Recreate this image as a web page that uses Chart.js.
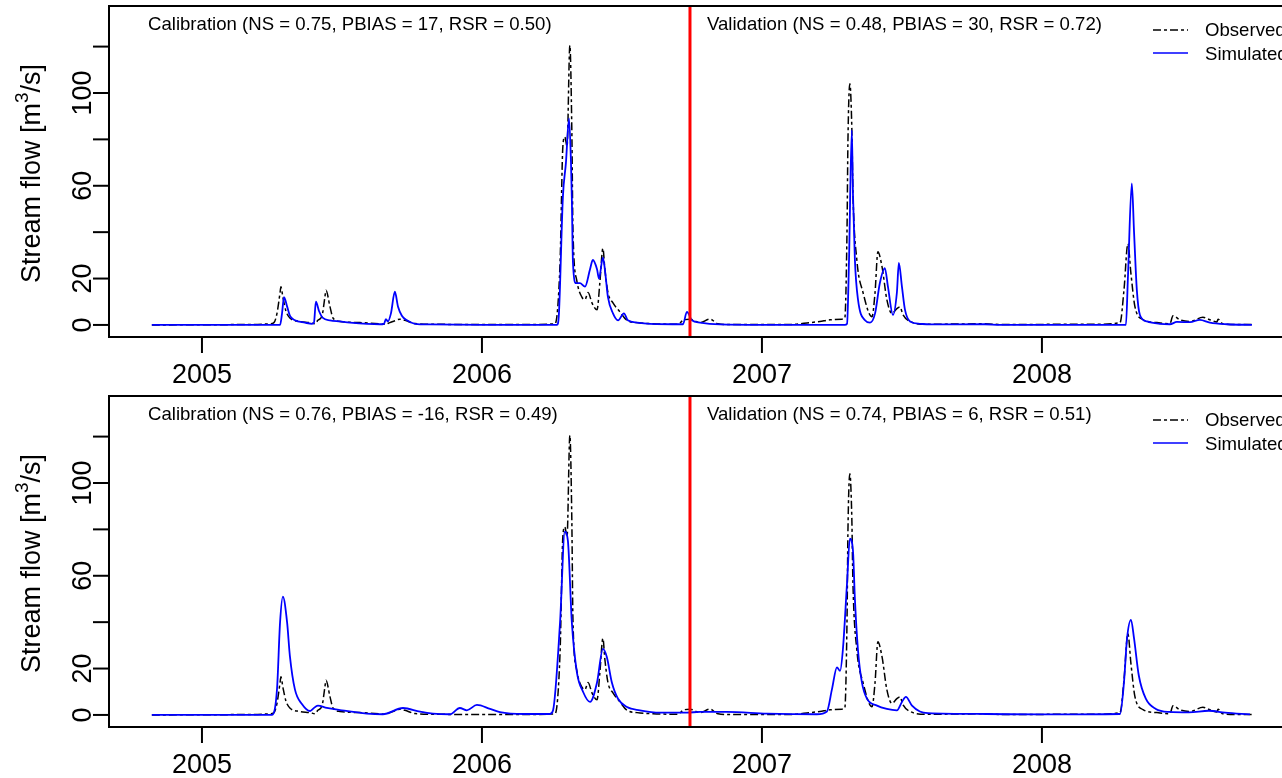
<!DOCTYPE html>
<html>
<head>
<meta charset="utf-8">
<script src="https://cdn.jsdelivr.net/npm/chart.js@4.4.0/dist/chart.umd.min.js"></script>
<style>
body { margin: 0; background: #fff; }
#wrap { width: 1282px; height: 778px; overflow: hidden; position: relative; background: #fff; }
canvas { position: absolute; left: 0; }
</style>
</head>
<body>
<div id="wrap">
<canvas id="top" width="1310" height="390" style="top:0"></canvas>
<canvas id="bottom" width="1310" height="390" style="top:390px"></canvas>
</div>
<script>
// observed stream flow (same record in both panels), decimal years
var obsYears = [2004.821, 2005.171, 2005.243, 2005.257, 2005.268, 2005.279, 2005.282, 2005.289, 2005.300, 2005.314,
  2005.350, 2005.386, 2005.404, 2005.414, 2005.429, 2005.439, 2005.443, 2005.457, 2005.468, 2005.493,
  2005.564, 2005.636, 2005.654, 2005.671, 2005.689, 2005.707, 2005.725, 2005.761, 2005.832, 2005.921,
  2006.064, 2006.171, 2006.261, 2006.279, 2006.289, 2006.296, 2006.304, 2006.314, 2006.321, 2006.325,
  2006.339, 2006.357, 2006.368, 2006.379, 2006.393, 2006.411, 2006.421, 2006.432, 2006.439, 2006.450,
  2006.468, 2006.493, 2006.518, 2006.554, 2006.611, 2006.700, 2006.718, 2006.743, 2006.779, 2006.814,
  2006.843, 2006.886, 2007.100, 2007.171, 2007.207, 2007.243, 2007.286, 2007.296, 2007.304, 2007.307,
  2007.314, 2007.321, 2007.325, 2007.339, 2007.361, 2007.393, 2007.404, 2007.414, 2007.429, 2007.446,
  2007.464, 2007.482, 2007.493, 2007.504, 2007.529, 2007.589, 2007.796, 2007.850, 2008.196, 2008.279,
  2008.293, 2008.307, 2008.318, 2008.332, 2008.361, 2008.411, 2008.457, 2008.468, 2008.493, 2008.529,
  2008.575, 2008.600, 2008.625, 2008.629, 2008.646, 2008.707, 2008.750];
var obsFlow = [0, 0.2, 0.5, 1, 5, 14, 16.5, 12, 6, 3,
  1.5, 1, 0.5, 2, 4, 12, 15, 8, 3, 1.5,
  1, 0.5, 0.3, 1, 1.8, 2.5, 2, 0.6, 0.3, 0.2,
  0.2, 0.2, 0.5, 27, 77, 81, 77, 120.5, 84, 41,
  19, 12, 11, 14, 9.5, 6.5, 18, 33, 24, 14,
  9.5, 5.6, 2, 1, 0.5, 0.3, 2, 2.5, 1, 2.5,
  0.5, 0.2, 0.2, 1, 1.5, 2.2, 2.5, 3, 42, 78,
  104, 85, 57, 28, 14, 3.5, 14, 31.5, 25, 11,
  5, 7, 7.8, 4.3, 1.5, 0.3, 0.5, 0.2, 0.3, 1,
  15, 35, 22, 8, 2.3, 1, 0.5, 4, 2.2, 1.5,
  3.3, 2.2, 1.3, 2.5, 0.5, 0.2, 0.2];

// simulated, top panel
var sim1Years = [2004.821, 2005.279, 2005.286, 2005.293, 2005.304, 2005.314, 2005.332, 2005.368, 2005.393, 2005.400,
  2005.407, 2005.418, 2005.432, 2005.457, 2005.493, 2005.529, 2005.636, 2005.650, 2005.657, 2005.664,
  2005.675, 2005.689, 2005.700, 2005.714, 2005.732, 2005.761, 2005.814, 2006.000, 2006.268, 2006.275,
  2006.289, 2006.300, 2006.311, 2006.318, 2006.321, 2006.325, 2006.336, 2006.350, 2006.368, 2006.386,
  2006.396, 2006.411, 2006.418, 2006.432, 2006.439, 2006.450, 2006.468, 2006.486, 2006.507, 2006.521,
  2006.554, 2006.600, 2006.718, 2006.732, 2006.750, 2006.779, 2006.850, 2007.000, 2007.296, 2007.304,
  2007.311, 2007.321, 2007.325, 2007.332, 2007.343, 2007.368, 2007.386, 2007.404, 2007.421, 2007.439,
  2007.450, 2007.468, 2007.482, 2007.489, 2007.500, 2007.511, 2007.529, 2007.564, 2007.600, 2007.796,
  2007.850, 2008.300, 2008.307, 2008.321, 2008.329, 2008.339, 2008.350, 2008.375, 2008.421, 2008.457,
  2008.482, 2008.529, 2008.564, 2008.600, 2008.661, 2008.750];
var sim1Flow = [0, 0, 5, 12, 8, 4, 2, 1, 0.5, 1,
  10, 6, 3, 2, 1.5, 1, 0.3, 0.5, 2.5, 1.5,
  5, 14.3, 8, 4, 2, 0.5, 0.2, 0, 0, 5,
  55, 70, 89, 70, 55, 27, 18, 18, 16.5, 24,
  28, 24, 20, 29, 24, 12, 5, 2, 5, 2,
  1, 0.5, 0.3, 5.6, 2, 1, 0.2, 0, 0, 0.5,
  28, 84, 57, 28, 11, 2, 1, 5, 18, 24.5,
  16.5, 4.3, 14, 26.7, 16.5, 6.5, 1.5, 0.5, 0.2, 0.3,
  0, 0, 20, 61, 40, 15, 4.3, 1.5, 0.5, 0.3,
  1.3, 1.2, 2.2, 1, 0.3, 0];

// simulated, bottom panel
var sim2Years = [2004.821, 2005.250, 2005.268, 2005.279, 2005.289, 2005.304, 2005.314, 2005.332, 2005.357, 2005.386,
  2005.396, 2005.414, 2005.446, 2005.493, 2005.589, 2005.646, 2005.718, 2005.779, 2005.825, 2005.886,
  2005.921, 2005.946, 2005.982, 2006.029, 2006.064, 2006.150, 2006.243, 2006.254, 2006.279, 2006.296,
  2006.307, 2006.321, 2006.339, 2006.361, 2006.386, 2006.411, 2006.432, 2006.446, 2006.464, 2006.486,
  2006.518, 2006.564, 2006.636, 2006.732, 2006.779, 2006.875, 2007.018, 2007.196, 2007.232, 2007.250,
  2007.268, 2007.279, 2007.289, 2007.304, 2007.314, 2007.325, 2007.332, 2007.343, 2007.357, 2007.375,
  2007.411, 2007.446, 2007.482, 2007.500, 2007.514, 2007.536, 2007.564, 2007.593, 2007.800, 2008.000,
  2008.279, 2008.293, 2008.304, 2008.318, 2008.329, 2008.346, 2008.371, 2008.407, 2008.454, 2008.525,
  2008.596, 2008.654, 2008.743];
var sim2Flow = [0, 0, 11, 40, 51, 40, 25.5, 11, 4.7, 1.7,
  2.6, 4, 3, 2.1, 0.6, 0.3, 3, 1.4, 0.6, 0.3,
  3, 2, 4.3, 2.6, 1.2, 0.4, 0.4, 2, 40, 79,
  75, 40, 18.5, 10, 5.6, 14, 28.5, 25, 14, 7,
  3.4, 2, 1, 1, 1.3, 1.3, 0.6, 0.3, 1.5, 11,
  20.5, 19, 28, 57, 76, 71, 50, 28, 14, 7,
  4, 2.6, 2, 5.6, 7.8, 4, 1.5, 0.8, 0.4, 0.2,
  0.4, 14, 33, 41, 33, 17, 7, 2.6, 1.3, 1.1,
  1.8, 1, 0.2];

var yTicks = [0, 20, 40, 60, 80, 100, 120];
var yLabels = [0, 20, 60, 100];
var xTicks = [2005, 2006, 2007, 2008];
var splitYear = 2006.743;

var topNotes = ['Calibration (NS = 0.75, PBIAS = 17, RSR = 0.50)', 'Validation (NS = 0.48, PBIAS = 30, RSR = 0.72)'];
var bottomNotes = ['Calibration (NS = 0.76, PBIAS = -16, RSR = 0.49)', 'Validation (NS = 0.74, PBIAS = 6, RSR = 0.51)'];
var legendLabels = ['Observed', 'Simulated'];

var axisFont = '27px "Liberation Sans", Arial, sans-serif';
var supFont = '19px "Liberation Sans", Arial, sans-serif';
var noteFont = '18.6px "Liberation Sans", Arial, sans-serif';
var obsDash = [8, 3, 3, 3];

function pairs(xs, ys) {
    return xs.map(function (x, i) { return { x: x, y: ys[i] }; });
}

function seg(c, x1, y1, x2, y2) {
    c.beginPath();
    c.moveTo(x1, y1);
    c.lineTo(x2, y2);
    c.stroke();
}

function framePlugin(notes) {
    return {
        id: 'frame',
        afterDraw: function (chart) {
            var c = chart.ctx, a = chart.chartArea;
            var xs = chart.scales.x, ys = chart.scales.y;
            c.save();

            // period split
            var sx = xs.getPixelForValue(splitYear);
            c.strokeStyle = '#ff0000';
            c.lineWidth = 3;
            seg(c, sx, a.top, sx, a.bottom);

            // box
            c.strokeStyle = '#000';
            c.lineWidth = 2;
            c.strokeRect(a.left, a.top, a.right - a.left, a.bottom - a.top);

            // y axis
            c.fillStyle = '#000';
            yTicks.forEach(function (v) {
                var y = ys.getPixelForValue(v);
                seg(c, a.left - 16, y, a.left, y);
            });
            c.font = axisFont;
            c.textAlign = 'center';
            c.textBaseline = 'alphabetic';
            yLabels.forEach(function (v) {
                var y = ys.getPixelForValue(v);
                c.save();
                c.translate(a.left - 18, y);
                c.rotate(-Math.PI / 2);
                c.fillText(String(v), 0, 0);
                c.restore();
            });

            // x axis
            xTicks.forEach(function (v) {
                var x = xs.getPixelForValue(v);
                seg(c, x, a.bottom, x, a.bottom + 16);
                c.fillText(String(v), x, a.bottom + 46);
            });

            // y title with superscript
            var p1 = 'Stream flow [m', p2 = '3', p3 = '/s]';
            c.font = axisFont;
            var w1 = c.measureText(p1).width, w3 = c.measureText(p3).width;
            c.font = supFont;
            var w2 = c.measureText(p2).width;
            var total = w1 + w2 + w3;
            c.save();
            c.translate(40, (a.top + a.bottom) / 2 + 2);
            c.rotate(-Math.PI / 2);
            c.textAlign = 'left';
            c.font = axisFont;
            c.fillText(p1, -total / 2, 0);
            c.font = supFont;
            c.fillText(p2, -total / 2 + w1, -12);
            c.font = axisFont;
            c.fillText(p3, -total / 2 + w1 + w2, 0);
            c.restore();

            // period notes
            c.font = noteFont;
            c.textAlign = 'left';
            c.textBaseline = 'middle';
            c.fillText(notes[0], 148, a.top + 19);
            c.fillText(notes[1], 707, a.top + 19);

            // legend
            c.lineWidth = 1.5;
            c.setLineDash(obsDash);
            c.strokeStyle = '#000';
            seg(c, 1153, a.top + 24, 1188, a.top + 24);
            c.setLineDash([]);
            c.strokeStyle = '#0000ff';
            seg(c, 1153, a.top + 47, 1188, a.top + 47);
            c.fillStyle = '#000';
            c.fillText(legendLabels[0], 1205, a.top + 25);
            c.fillText(legendLabels[1], 1205, a.top + 49);

            c.restore();
        }
    };
}

function makePanel(id, simYears, simFlow, notes) {
    var ctx = document.getElementById(id).getContext('2d');
    return new Chart(ctx, {
        type: 'line',
        data: {
            datasets: [{
                label: legendLabels[1],
                data: pairs(simYears, simFlow),
                borderColor: '#0000ff',
                borderWidth: 1.8,
                pointRadius: 0,
                cubicInterpolationMode: 'monotone'
            }, {
                label: legendLabels[0],
                data: pairs(obsYears, obsFlow),
                borderColor: '#000',
                borderWidth: 1.5,
                borderDash: obsDash,
                pointRadius: 0,
                cubicInterpolationMode: 'monotone'
            }]
        },
        options: {
            responsive: false,
            animation: false,
            events: [],
            layout: { padding: { left: 109, top: 6, right: 13, bottom: 53 } },
            plugins: { legend: { display: false }, tooltip: { enabled: false } },
            scales: {
                x: { type: 'linear', display: false, min: 2004.668, max: 2008.911 },
                y: { type: 'linear', display: false, min: -5.2, max: 137.5 }
            }
        },
        plugins: [framePlugin(notes)]
    });
}

var chartTop = makePanel('top', sim1Years, sim1Flow, topNotes);
var chartBottom = makePanel('bottom', sim2Years, sim2Flow, bottomNotes);
</script>
</body>
</html>
